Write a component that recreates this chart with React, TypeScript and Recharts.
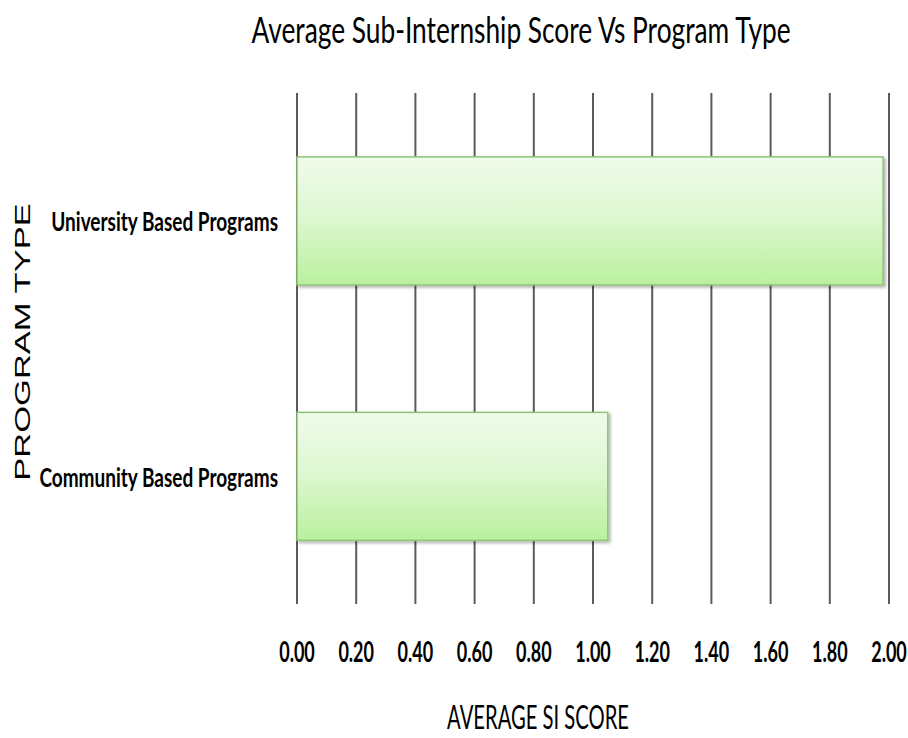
import React from 'react';
import { BarChart, Bar, XAxis, YAxis, CartesianGrid } from 'recharts';

const programTypes = ['University Based Programs', 'Community Based Programs'];
const averageScores = [1.98, 1.05];
const scoreTicks = [0, 0.2, 0.4, 0.6, 0.8, 1.0, 1.2, 1.4, 1.6, 1.8, 2.0];

const chartTitle = 'Average Sub-Internship Score Vs Program Type';
const xTitle = 'AVERAGE SI SCORE';
const yTitle = 'PROGRAM TYPE';

const data = programTypes.map((name, i) => ({ name, score: averageScores[i] }));

const W = 908;
const H = 738;
const FONT = 'Lato, "Open Sans", sans-serif';

// the picture is stretched vertically, so the text is too
const StretchText = ({ x, y, sx = 1, sy = 1, rotate = 0, anchor = 'middle', size, weight = 400, family = FONT, children }: any) => (
    <text
        transform={`translate(${x},${y}) rotate(${rotate}) scale(${sx},${sy})`}
        textAnchor={anchor}
        fontFamily={family}
        fontSize={size}
        fontWeight={weight}
        fill="#000"
    >
        {children}
    </text>
);

const ScoreTick = (props: any) => {
    const { x, y, payload } = props;
    return (
        <StretchText x={x} y={y + 58} size={18} sy={1.55} weight={700}>
            {Number(payload.value).toFixed(2)}
        </StretchText>
    );
};

const ProgramTick = (props: any) => {
    const { x, y, payload } = props;
    return (
        <StretchText x={x - 19} y={y + 10.5} size={19} sy={1.39} weight={700} anchor="end">
            {payload.value}
        </StretchText>
    );
};

const GreenBar = (props: any) => {
    const { x, y, width, height, index } = props;
    const gid = `barFill${index}`;
    const fid = `barShadow${index}`;
    return (
        <g>
            <defs>
                <linearGradient id={gid} x1="0" y1="0" x2="0" y2="1">
                    <stop offset="0%" stopColor="#f0fbeb" />
                    <stop offset="50%" stopColor="#dcf7cf" />
                    <stop offset="100%" stopColor="#b9f09e" />
                </linearGradient>
                <filter id={fid} x="-5%" y="-5%" width="110%" height="115%">
                    <feDropShadow dx="2" dy="2" stdDeviation="1.5" floodColor="#000" floodOpacity="0.3" />
                </filter>
            </defs>
            <rect x={x} y={y} width={width} height={height} fill={`url(#${gid})`} stroke="#8fc476" strokeWidth={1.5} filter={`url(#${fid})`} />
        </g>
    );
};

export default function App() {
    return (
        <div style={{ position: 'absolute', left: 0, top: 0, width: W, height: H, background: '#fff' }}>
            <BarChart
                width={W}
                height={H}
                data={data}
                layout="vertical"
                margin={{ top: 93, right: 19, left: 0, bottom: 0 }}
                barCategoryGap="25%"
            >
                <CartesianGrid horizontal={false} vertical={true} stroke="#5a5a5a" strokeWidth={2} />
                <XAxis
                    type="number"
                    domain={[0, 2]}
                    ticks={scoreTicks}
                    interval={0}
                    height={134}
                    axisLine={false}
                    tickLine={false}
                    tickSize={0}
                    tickMargin={0}
                    tick={<ScoreTick />}
                />
                <YAxis
                    type="category"
                    dataKey="name"
                    width={297}
                    axisLine={false}
                    tickLine={false}
                    tickSize={0}
                    tickMargin={0}
                    tick={<ProgramTick />}
                />
                <Bar dataKey="score" shape={<GreenBar />} isAnimationActive={false} />
            </BarChart>
            <svg width={W} height={H} style={{ position: 'absolute', left: 0, top: 0, pointerEvents: 'none' }}>
                <StretchText x={521} y={43} size={26.3} sy={1.43}>
                    {chartTitle}
                </StretchText>
                <StretchText x={538} y={729} size={20.2} sy={1.62}>
                    {xTitle}
                </StretchText>
                <StretchText x={30} y={342} rotate={-90} sx={1.57} size={22} family='"Liberation Sans", Arial, sans-serif'>
                    {yTitle}
                </StretchText>
            </svg>
        </div>
    );
}
